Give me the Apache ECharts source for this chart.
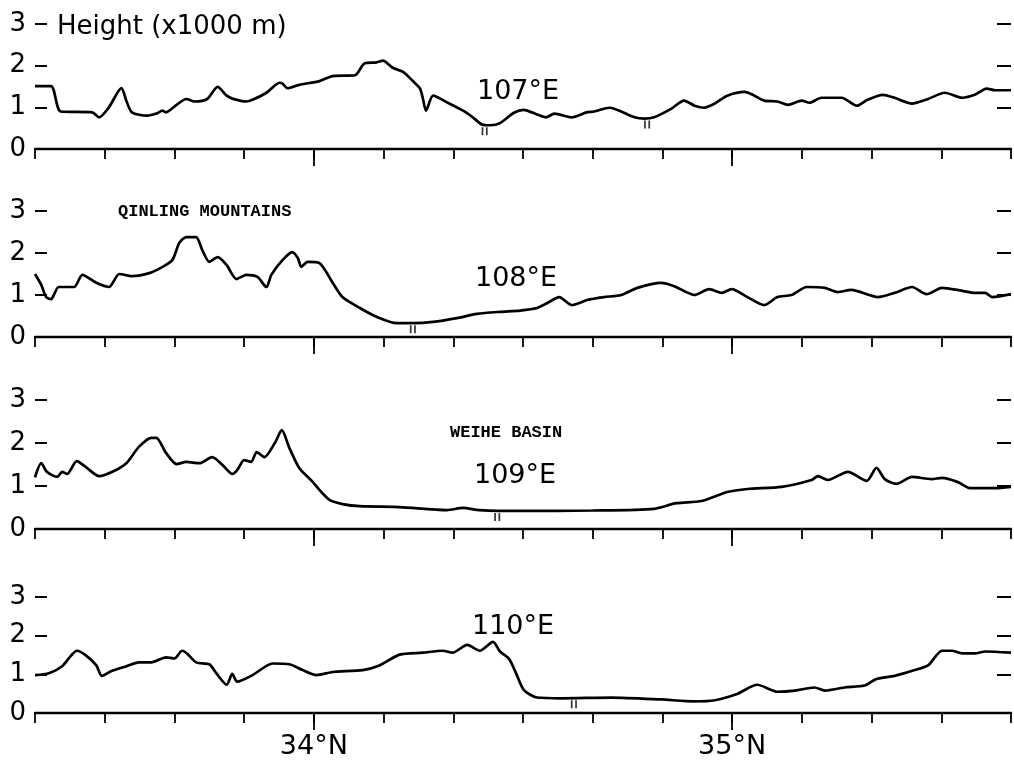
<!DOCTYPE html>
<html><head><meta charset="utf-8">
<script src="https://cdn.jsdelivr.net/npm/echarts@6/dist/echarts.min.js"></script>
<style>html,body{margin:0;padding:0;background:#fff}#c{width:1014px;height:760px}</style>
</head><body><div id="c"></div>
<script>
// latitude expressed in minutes north of 33°N (20 = 33°20'N, 160 = 35°40'N); heights in 1000 m
const lat107 = [20.0,22.3,23.7,28.2,29.2,30.6,32.4,33.1,33.9,36.1,37.4,38.3,38.8,40.3,41.7,42.9,44.7,46.2,47.5,48.3,50.3,51.2,53.2,55.1,55.5,56.2,57.9,60.8,62.7,65.9,67.3,69.0,69.9,71.3,72.8,74.2,75.2,75.6,76.1,77.1,79.1,81.4,82.8,84.1,85.3,86.7,88.7,90.1,92.0,93.3,94.5,97.0,99.1,100.2,102.4,106.0,107.4,108.8,111.3,113.1,114.6,116.0,117.5,119.3,121.8,123.2,124.6,126.5,128.0,130.0,131.1,132.8,135.7,137.9,139.4,141.6,143.3,145.8,148.1,150.5,153.0,154.8,156.5,157.7,158.7,160];
const h107   = [1.51,1.51,0.9,0.88,0.76,1.0,1.46,1.16,0.88,0.8,0.85,0.92,0.88,1.06,1.2,1.14,1.2,1.49,1.28,1.21,1.14,1.18,1.35,1.59,1.57,1.46,1.54,1.63,1.75,1.77,2.06,2.08,2.12,1.95,1.85,1.63,1.46,1.24,0.92,1.28,1.12,0.92,0.76,0.59,0.57,0.62,0.87,0.94,0.83,0.76,0.85,0.76,0.88,0.9,0.99,0.76,0.73,0.76,0.97,1.16,1.04,0.99,1.09,1.28,1.37,1.28,1.16,1.14,1.06,1.16,1.11,1.23,1.23,1.04,1.18,1.30,1.23,1.09,1.2,1.35,1.23,1.30,1.45,1.41,1.41,1.41];

const lat108 = [20.0,20.9,21.6,22.3,22.7,23.4,25.6,26.8,28.8,30.6,32.1,33.9,36.4,38.3,39.7,40.7,41.7,43.1,44.0,45.0,46.2,47.5,48.9,50.3,51.9,53.2,53.9,55.5,56.9,57.7,58.2,59.1,60.8,62.7,64.1,66.6,69.0,71.9,74.2,77.1,80.5,83.4,86.7,89.6,92.0,93.5,95.2,97.0,99.2,101.6,104.1,106.4,109.8,111.7,114.6,116.7,118.5,119.9,122.2,124.6,126.5,128.5,130.7,133.3,135.1,137.1,140.9,143.3,145.8,147.9,150.1,153.0,154.8,156.3,157.3,160];
const h108   = [1.5,1.24,0.95,0.9,1.0,1.19,1.19,1.48,1.29,1.19,1.5,1.45,1.52,1.67,1.83,2.24,2.38,2.38,2.07,1.79,1.9,1.71,1.38,1.48,1.43,1.19,1.48,1.83,2.02,1.88,1.67,1.79,1.76,1.29,0.95,0.69,0.48,0.33,0.33,0.36,0.45,0.55,0.6,0.63,0.69,0.81,0.95,0.76,0.88,0.95,1.0,1.17,1.29,1.21,1.0,1.14,1.05,1.14,0.95,0.76,0.95,1.0,1.19,1.17,1.07,1.12,0.95,1.05,1.19,1.02,1.17,1.1,1.05,1.05,0.95,1.02];

const lat109 = [20.0,20.9,21.7,23.2,23.9,24.6,26.0,27.3,29.2,31.1,33.1,34.9,36.7,37.4,38.8,40.3,41.7,43.6,45.4,46.9,48.3,49.0,50.0,51.0,51.8,52.9,54.4,55.4,56.5,57.9,59.7,60.8,62.3,64.1,66.6,72.3,79.1,81.4,83.8,89.6,100.0,108.8,112.0,115.6,119.3,122.2,127.1,131.4,132.3,133.7,136.6,139.3,140.7,141.9,143.6,145.8,148.6,150.1,152.4,154.1,157.7,160];
const h109   = [1.2,1.53,1.33,1.21,1.33,1.28,1.58,1.44,1.23,1.33,1.53,1.91,2.12,2.12,1.77,1.51,1.56,1.53,1.67,1.49,1.28,1.37,1.6,1.56,1.79,1.67,2.0,2.3,1.88,1.42,1.12,0.91,0.67,0.58,0.53,0.51,0.44,0.49,0.44,0.42,0.43,0.47,0.6,0.65,0.86,0.93,0.98,1.14,1.23,1.14,1.33,1.12,1.42,1.16,1.05,1.21,1.16,1.19,1.09,0.95,0.95,0.98];

const lat110 = [20.0,22.0,23.9,25.2,26.0,27.3,28.8,29.6,30.9,33.1,34.9,36.7,38.8,40.0,41.1,41.8,43.1,45.0,46.0,47.5,48.3,49.0,51.2,54.1,56.5,58.4,60.4,62.7,67.0,69.4,72.3,75.6,78.5,79.9,82.0,83.8,85.7,86.7,88.0,89.0,90.1,92.0,95.5,102.7,109.8,114.6,117.5,120.8,123.6,126.5,129.0,131.8,133.3,136.1,139.0,140.7,143.3,146.2,148.1,150.1,151.5,153.0,154.8,156.3,160];
const h110   = [0.98,1.03,1.21,1.49,1.61,1.49,1.23,0.96,1.08,1.21,1.31,1.31,1.44,1.41,1.61,1.54,1.31,1.26,1.03,0.73,1.01,0.81,0.98,1.28,1.26,1.11,0.98,1.06,1.11,1.23,1.51,1.56,1.61,1.56,1.76,1.61,1.84,1.59,1.4,1.03,0.6,0.4,0.38,0.4,0.35,0.3,0.33,0.5,0.73,0.55,0.58,0.66,0.58,0.66,0.71,0.88,0.96,1.11,1.23,1.61,1.61,1.54,1.54,1.59,1.56];

// small "ıı" marks under each profile
const markLat107 = [84.5,107.8], markH107 = [0.57,0.73];
const markLat108 = [74.2], markH108 = [0.33];
const markLat109 = [86.3], markH109 = [0.42];
const markLat110 = [97.3], markH110 = [0.38];

const yTicks = [0,1,2,3];
const majorLat = [60,120];           // 34°N, 35°N
const panelNames = ['107°E','108°E','109°E','110°E'];

const panels = [
  {lat:lat107,h:h107,mLat:markLat107,mH:markH107},
  {lat:lat108,h:h108,mLat:markLat108,mH:markH108},
  {lat:lat109,h:h109,mLat:markLat109,mH:markH109},
  {lat:lat110,h:h110,mLat:markLat110,mH:markH110}
];
// layout (pixels)
const layout = [
  {top:24,height:125},
  {top:211,height:126},
  {top:400,height:129},
  {top:597,height:119}
];

const FONT = 'DejaVu Sans';
const grid=[], xAxis=[], yAxis=[], series=[];
panels.forEach((p,i)=>{
  grid.push({left:35,right:3,top:layout[i].top,height:layout[i].height,containLabel:false});
  xAxis.push({gridIndex:i,type:'value',position:'bottom',min:20,max:160,interval:10,
    axisLine:{show:true,onZero:false,lineStyle:{color:'#000',width:2.4}},
    axisTick:{show:true,length:10,lineStyle:{color:'#000',width:1.8}},
    axisLabel:{show:false},splitLine:{show:false}});
  xAxis.push({gridIndex:i,type:'value',position:'bottom',min:20,max:160,
    axisLine:{show:false,onZero:false},
    axisTick:{show:true,customValues:majorLat,length:17,lineStyle:{color:'#000',width:1.8}},
    axisLabel:{show:i===3,customValues:majorLat,margin:20,fontSize:27,color:'#000',fontFamily:FONT,
      formatter:v=>(33+Math.round(v/60))+'°N'},
    splitLine:{show:false}});
  yAxis.push({gridIndex:i,type:'value',position:'left',min:0,max:3,interval:1,
    axisLine:{show:false},
    axisTick:{show:true,inside:true,length:12,lineStyle:{color:'#000',width:2}},
    axisLabel:{show:true,margin:9,fontSize:26,color:'#000',fontFamily:FONT,
      customValues:yTicks},
    splitLine:{show:false}});
  yAxis.push({gridIndex:i,type:'value',position:'right',min:0,max:3,interval:1,
    axisLine:{show:false},
    axisTick:{show:true,inside:true,length:14,lineStyle:{color:'#000',width:2}},
    axisLabel:{show:false},splitLine:{show:false}});
  series.push({type:'line',xAxisIndex:2*i,yAxisIndex:2*i,
    data:p.lat.map((x,k)=>[x,p.h[k]]),
    showSymbol:false,smooth:0.25,silent:true,
    lineStyle:{color:'#000',width:2.7}});
  series.push({type:'scatter',xAxisIndex:2*i,yAxisIndex:2*i,
    data:p.mLat.map((x,k)=>[x,p.mH[k]]),
    symbol:'path://M0,0h1.8v8h-1.8z M4.5,0h1.8v8h-1.8z',
    symbolSize:[6,8],symbolOffset:[0,6],silent:true,
    itemStyle:{color:'#000'}});
});

const txt=(t,x,y,size,fam,align,weight)=>({type:'text',x:x,y:y,silent:true,
  style:{text:t,fontSize:size,fontFamily:fam,fontWeight:weight||'normal',fill:'#000',
    textAlign:align||'center',textVerticalAlign:'middle',align:align||'center',verticalAlign:'middle'}});

const graphic=[
  txt('Height (x1000 m)',57,27,26,FONT,'left'),
  txt(panelNames[0],518,92,27,FONT),
  txt(panelNames[1],516,279,27,FONT),
  txt(panelNames[2],515,476,27,FONT),
  txt(panelNames[3],513,627,27,FONT),
  txt('QINLING MOUNTAINS',118,212,17,'Liberation Mono','left','bold'),
  txt('WEIHE BASIN',450,433,17,'Liberation Mono','left','bold')
];

const chart = echarts.init(document.getElementById('c'),null,{renderer:'canvas'});
chart.setOption({animation:false,backgroundColor:'#fff',grid,xAxis,yAxis,series,graphic});
</script></body></html>
